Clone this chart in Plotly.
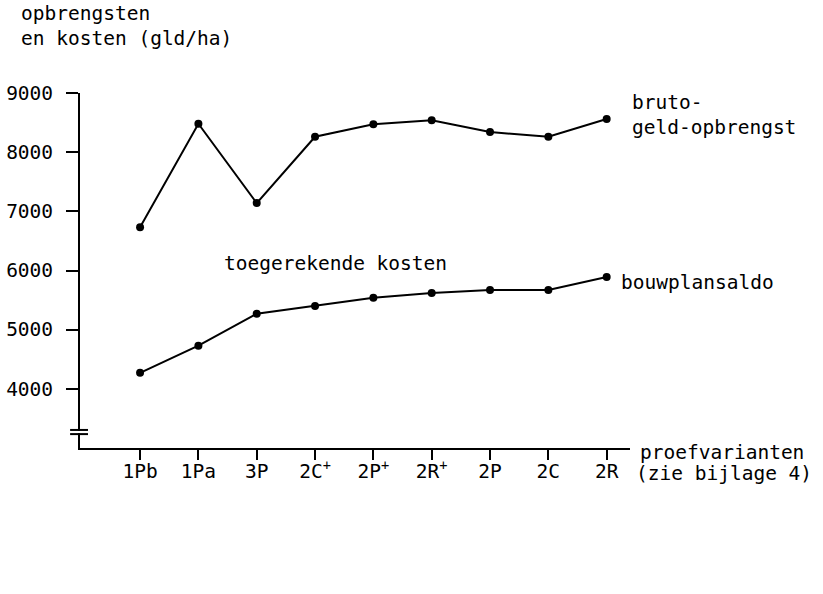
import plotly.graph_objects as go

categories = ["1Pb", "1Pa", "3P", "2C+", "2P+", "2R+", "2P", "2C", "2R"]
tick_labels = ["1Pb", "1Pa", "3P", "2C<sup>+</sup>", "2P<sup>+</sup>", "2R<sup>+</sup>", "2P", "2C", "2R"]
bruto = [6730, 8480, 7140, 8260, 8470, 8540, 8340, 8260, 8560]
saldo = [4270, 4730, 5270, 5400, 5540, 5620, 5670, 5670, 5890]
y_ticks = [4000, 5000, 6000, 7000, 8000, 9000]

FONT = "DejaVu Sans Mono, Liberation Mono, monospace"
FS = 19.5

fig = go.Figure()
for vals in (bruto, saldo):
    fig.add_trace(go.Scatter(
        x=categories, y=vals, mode="lines+markers",
        line=dict(color="black", width=2),
        marker=dict(color="black", size=8),
        showlegend=False, hoverinfo="skip",
    ))

fig.update_layout(
    width=823, height=594,
    margin=dict(l=80, r=193, t=93, b=146),
    paper_bgcolor="white", plot_bgcolor="white",
    font=dict(family=FONT, size=FS, color="black"),
)
fig.update_xaxes(
    type="category", categoryarray=categories,
    tickvals=categories, ticktext=tick_labels,
    range=[-1.03, 8.4], automargin=False,
    showline=True, linecolor="black", linewidth=2,
    ticks="outside", ticklen=10, tickwidth=2, tickcolor="black",
    ticklabelstandoff=-5,
    showgrid=False, zeroline=False,
    tickfont=dict(family=FONT, size=FS, color="black"),
)
fig.update_yaxes(
    range=[3000, 9000], tickvals=y_ticks, automargin=False,
    showline=True, linecolor="black", linewidth=2,
    ticks="outside", ticklen=12, tickwidth=2, tickcolor="black",
    ticklabelstandoff=9,
    showgrid=False, zeroline=False,
    tickfont=dict(family=FONT, size=FS, color="black"),
)

# axis break marks
fig.add_shape(type="rect", xref="paper", yref="y", x0=-0.008, x1=0.008, y0=3250, y1=3290,
              fillcolor="white", line=dict(width=0), layer="above")
for yb in (3235, 3305):
    fig.add_shape(type="line", xref="paper", yref="y", x0=-0.018, x1=0.0145, y0=yb, y1=yb,
                  line=dict(color="black", width=2), layer="above")

def ann(text, x, y, xanchor="left"):
    fig.add_annotation(text=text, x=x, y=y, xref="paper", yref="paper",
                       xanchor=xanchor, yanchor="middle", align="left",
                       showarrow=False, font=dict(family=FONT, size=FS, color="black"))

ann("opbrengsten<br>en kosten (gld/ha)", -0.111, 1.19)
ann("bruto-<br>geld-opbrengst", 1.0, 0.939)
ann("bouwplansaldo", 0.98, 0.4648)
ann("toegerekende kosten", 0.258, 0.521)
ann("proefvarianten", 1.0145, -0.014)
ann("(zie bijlage 4)", 1.007, -0.073)

fig.write_html("out.html", config={"displayModeBar": False},
               post_script="document.body.style.margin='0';")
